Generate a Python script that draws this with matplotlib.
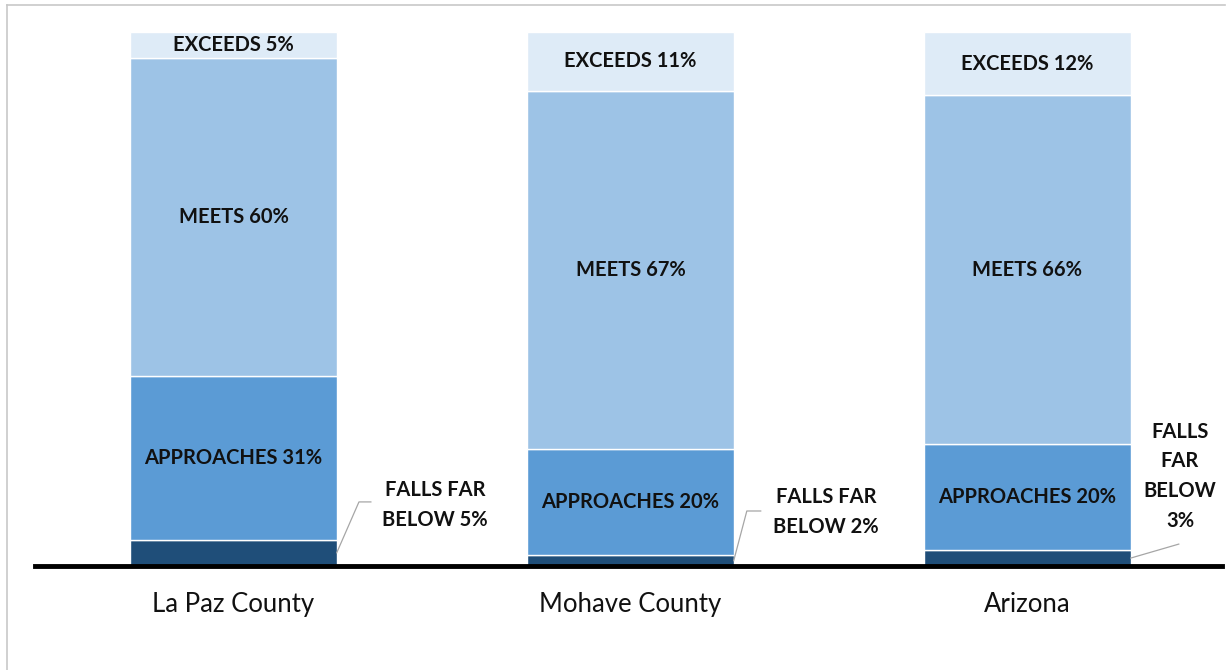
"""Stacked proficiency bars: La Paz County, Mohave County, Arizona."""

import matplotlib.pyplot as plt
from matplotlib.lines import Line2D

# data (percent of students per level, as labelled)
categories = ["La Paz County", "Mohave County", "Arizona"]
falls_far_below = [5, 2, 3]
approaches = [31, 20, 20]
meets = [60, 67, 66]
exceeds = [5, 11, 12]

C_FFB = "#1f4e79"
C_APP = "#5b9bd5"
C_MEETS = "#9dc3e6"
C_EXC = "#deebf7"

plt.rcParams["font.family"] = ["Lato", "DejaVu Sans"]

W, H = 1226, 670
fig = plt.figure(figsize=(W / 100, H / 100), dpi=100)
ax = fig.add_axes([35 / W, (H - 566) / H, 1191 / W, 534 / H])

x = list(range(len(categories)))
width = 0.52

# 100% stacked: each column scaled to its own total
totals = [a + b + c + d for a, b, c, d in zip(falls_far_below, approaches, meets, exceeds)]

bottoms = [0.0] * len(x)
segments = [
    ("FALLS FAR BELOW", falls_far_below, C_FFB),
    ("APPROACHES", approaches, C_APP),
    ("MEETS", meets, C_MEETS),
    ("EXCEEDS", exceeds, C_EXC),
]
for name, vals, color in segments:
    heights = [100 * v / t for v, t in zip(vals, totals)]
    ax.bar(x, heights, width, bottom=bottoms, color=color, edgecolor="white", linewidth=1.0, zorder=2)
    if name != "FALLS FAR BELOW":
        for i, (v, h) in enumerate(zip(vals, heights)):
            ax.text(i, bottoms[i] + h / 2, f"{name} {v}%", ha="center", va="center",
                    fontsize=14.5, fontweight="bold", color="#111111", zorder=3)
    bottoms = [b + h for b, h in zip(bottoms, heights)]

# outside labels for the small "falls far below" segments
label_pos = [(0.507, 11.4), (1.492, 10.1), (2.384, 16.8)]
texts = [f"FALLS FAR\nBELOW {falls_far_below[0]}%",
         f"FALLS FAR\nBELOW {falls_far_below[1]}%",
         f"FALLS\nFAR\nBELOW\n{falls_far_below[2]}%"]
for (tx, ty), t in zip(label_pos, texts):
    ax.text(tx, ty, t, ha="center", va="center", fontsize=14.5, fontweight="bold",
            color="#111111", linespacing=1.6, zorder=3)

lc = "#a6a6a6"
x0 = [i + width / 2 for i in x]
y0 = [100 * v / t / 2 for v, t in zip(falls_far_below, totals)]
ax.plot([x0[0], 0.316, 0.346], [y0[0], 12.0, 12.0], color=lc, lw=0.9, clip_on=False)
ax.plot([x0[1], 1.293, 1.328], [y0[1], 10.3, 10.3], color=lc, lw=0.9, clip_on=False)
ax.plot([x0[2], 2.381], [y0[2], 4.1], color=lc, lw=0.9, clip_on=False)

ax.set_xlim(-0.5, 2.5)
ax.set_ylim(0, 100)
ax.axhline(0, xmin=0, xmax=(1222 - 35) / 1191, color="black", lw=3.5, zorder=4, clip_on=False)

for s in ax.spines.values():
    s.set_visible(False)
ax.set_yticks([])
ax.set_xticks(x)
ax.set_xticklabels(categories, fontsize=18.5, color="#111111")
ax.tick_params(axis="x", length=0, pad=19)

# chart border (left + top edges visible)
fig.add_artist(Line2D([7 / W, 7 / W], [0, 1 - 5 / H], color="#c8c8c8", lw=1.2))
fig.add_artist(Line2D([7 / W, 1225 / W], [1 - 5 / H, 1 - 5 / H], color="#c8c8c8", lw=1.2))

fig.savefig("out.png", dpi=100)
